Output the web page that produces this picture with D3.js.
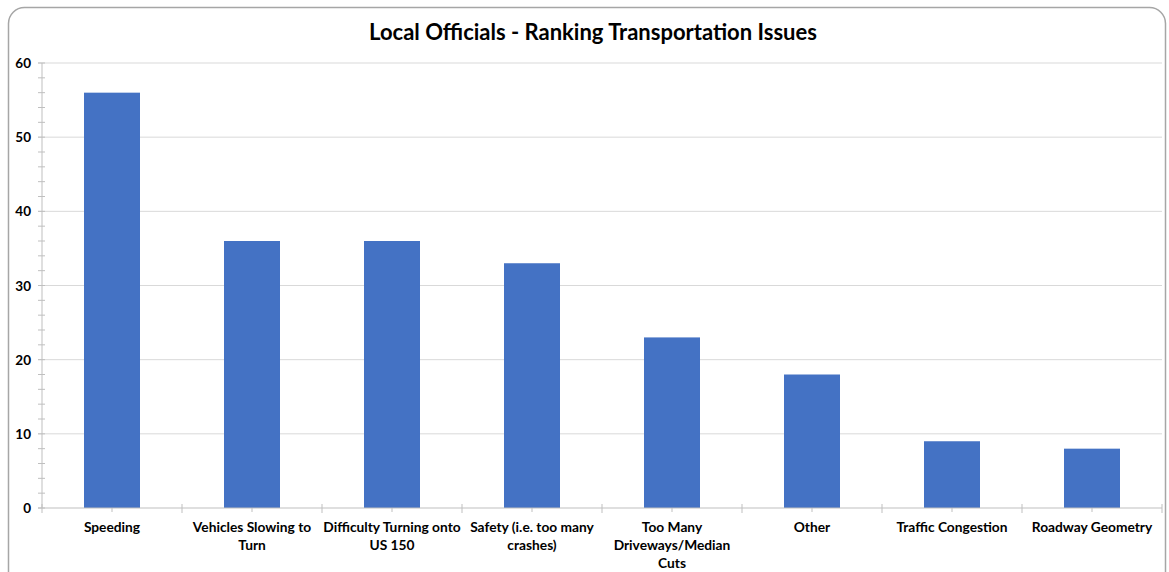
<!DOCTYPE html>
<html>
<head>
<meta charset="utf-8">
<script src="https://cdn.jsdelivr.net/npm/d3@7"></script>
<style>
  html, body { margin: 0; padding: 0; background: #fff; }
  svg { display: block; }
  text { font-family: Lato, "Noto Sans", sans-serif; }
</style>
</head>
<body>
<svg id="chart" width="1169" height="572"></svg>
<script>
const title = "Local Officials - Ranking Transportation Issues";
const categories = ["Speeding", "Vehicles Slowing to Turn", "Difficulty Turning onto US 150", "Safety (i.e. too many crashes)", "Too Many Driveways/Median Cuts", "Other", "Traffic Congestion", "Roadway Geometry"];
const values = [56, 36, 36, 33, 23, 18, 9, 8];
const yTicks = [0, 10, 20, 30, 40, 50, 60];
const yMinorTicks = d3.range(0, 61, 2);

const svg = d3.select("#chart");

// border
svg.append("rect")
  .attr("x", 8.5).attr("y", 7.5)
  .attr("width", 1157).attr("height", 600)
  .attr("rx", 16).attr("ry", 16)
  .attr("fill", "none").attr("stroke", "#a6a6a6").attr("stroke-width", 1.5);

const x = d3.scaleBand().domain(categories).range([42, 1162]).paddingInner(0.6).paddingOuter(0.3);
const y = d3.scaleLinear().domain([0, 60]).range([508, 63]);

// gridlines
svg.append("g").selectAll("line").data(yTicks.filter(d => d > 0)).join("line")
  .attr("x1", 38).attr("x2", 1162)
  .attr("y1", d => y(d)).attr("y2", d => y(d))
  .attr("stroke", "#d9d9d9").attr("stroke-width", 1);

// bars
svg.append("g").selectAll("rect").data(values).join("rect")
  .attr("x", (d, i) => x(categories[i]))
  .attr("width", x.bandwidth())
  .attr("y", d => y(d))
  .attr("height", d => y(0) - y(d))
  .attr("fill", "#4472c4");

// y axis line + minor ticks
const yAxisG = svg.append("g");
yAxisG.append("line").attr("x1", 42).attr("x2", 42).attr("y1", y(60)).attr("y2", y(0))
  .attr("stroke", "#bfbfbf").attr("stroke-width", 1);
yAxisG.selectAll("line.minor").data(yMinorTicks).join("line").attr("class", "minor")
  .attr("x1", 38).attr("x2", 45)
  .attr("y1", d => y(d)).attr("y2", d => y(d))
  .attr("stroke", "#bfbfbf").attr("stroke-width", 1);
yAxisG.selectAll("text").data(yTicks).join("text")
  .attr("x", 31).attr("y", d => y(d) + 5)
  .attr("text-anchor", "end")
  .attr("font-size", 13.5).attr("font-weight", "bold").attr("fill", "#000")
  .text(d => d);

// x axis line
const xAxisG = svg.append("g");
xAxisG.append("line").attr("x1", 38).attr("x2", 1162).attr("y1", y(0)).attr("y2", y(0))
  .attr("stroke", "#bfbfbf").attr("stroke-width", 1);
const step = x.step();
const boundaries = d3.range(0, categories.length + 1).map(i => 42 + i * step);
xAxisG.selectAll("line.bd").data(boundaries).join("line").attr("class", "bd")
  .attr("x1", d => d).attr("x2", d => d).attr("y1", y(0) - 4).attr("y2", y(0) + 5)
  .attr("stroke", "#bfbfbf").attr("stroke-width", 1);
xAxisG.selectAll("line.ct").data(categories).join("line").attr("class", "ct")
  .attr("x1", d => x(d) + x.bandwidth() / 2).attr("x2", d => x(d) + x.bandwidth() / 2)
  .attr("y1", y(0)).attr("y2", y(0) + 4)
  .attr("stroke", "#bfbfbf").attr("stroke-width", 1);

// x labels with wrapping
const labels = xAxisG.selectAll("text").data(categories).join("text")
  .attr("text-anchor", "middle")
  .attr("font-size", 13.75).attr("font-weight", "bold").attr("fill", "#000")
  .attr("x", d => x(d) + x.bandwidth() / 2)
  .attr("y", 532);
labels.each(function(d) {
  const t = d3.select(this);
  const cx = +t.attr("x");
  const words = d.split(" ");
  let line = [];
  let tspan = t.append("tspan").attr("x", cx).attr("dy", 0);
  words.forEach(w => {
    line.push(w);
    tspan.text(line.join(" "));
    if (tspan.node().getComputedTextLength() > 140 && line.length > 1) {
      line.pop();
      tspan.text(line.join(" "));
      line = [w];
      tspan = t.append("tspan").attr("x", cx).attr("dy", 18).text(w);
    }
  });
});

// title
svg.append("text")
  .attr("x", 593).attr("y", 40)
  .attr("text-anchor", "middle")
  .attr("font-size", 22).attr("font-weight", "bold").attr("fill", "#000")
  .text(title);
</script>
</body>
</html>
